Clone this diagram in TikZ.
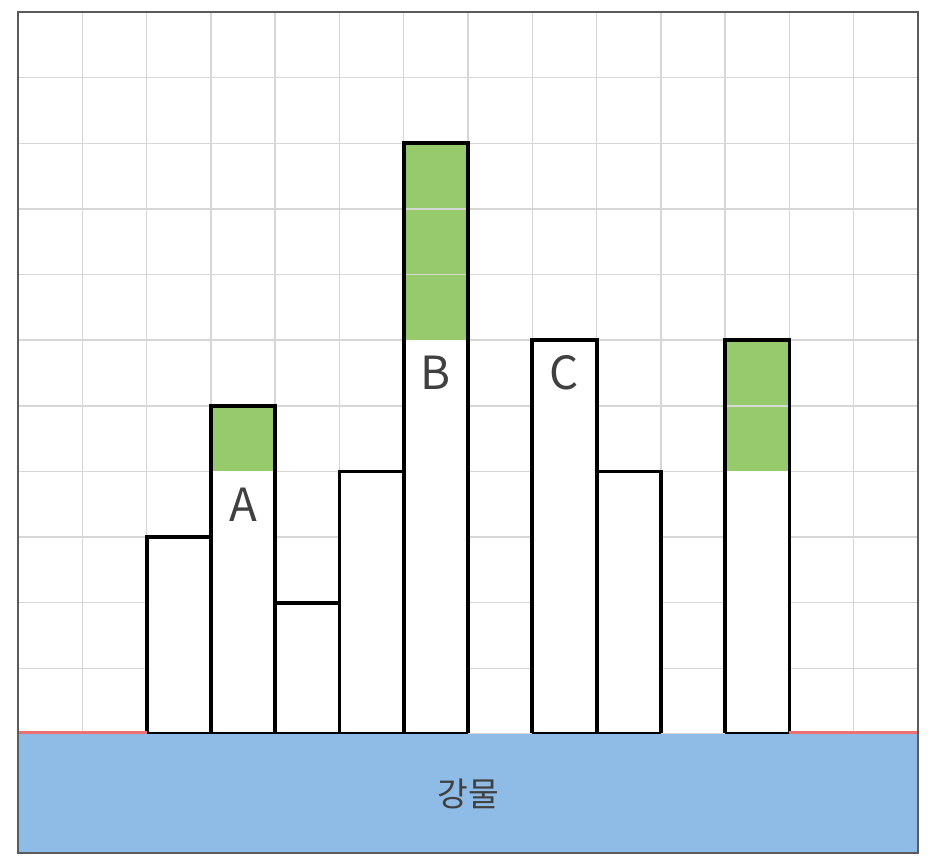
\documentclass[tikz,border=0pt]{standalone}
\usepackage{fontspec}
\setmainfont{Noto Sans CJK KR}
\definecolor{gridgray}{RGB}{215,215,215}
\definecolor{roofgreen}{RGB}{151,202,108}
\definecolor{riverblue}{RGB}{143,188,230}
\definecolor{shorered}{RGB}{238,112,112}
\definecolor{textgray}{RGB}{64,64,64}
\definecolor{framegray}{RGB}{90,90,90}

\begin{document}
\begin{tikzpicture}[
    x = 1.2857cm, y = 1.3127cm,
    gridline/.style = {gridgray, line width=0.8pt},
    building/.style = {draw=black, line width=2.2pt},
    roofcell/.style = {fill=roofgreen},
    shoreline/.style= {shorered, line width=2pt},
    tagtext/.style  = {font=\fontsize{26}{30}\selectfont, text=textgray},
    rivertext/.style= {font=\fontsize{19}{22}\selectfont, text=textgray},
]
\useasboundingbox (-0.28,-2.011) rectangle (14.342,11.183);

% Grid
\foreach \i in {1,...,13}{
  \draw[gridline] (\i,0) -- (\i,11);
}
\foreach \j in {1,...,10}{
  \draw[gridline] (0,\j) -- (14,\j);
}

% Buildings: column / white height / green height
\foreach \c/\h/\g in {2/3/0, 3/4/1, 4/2/0, 5/4/0, 6/6/3, 8/6/0, 9/4/0, 11/4/2}{
  \fill[white] (\c,0) rectangle (\c+1,\h);
  \ifnum\g>0
    \fill[roofcell] (\c,\h) rectangle (\c+1,\h+\g);
    \foreach \k in {1,...,\g}{
      \ifnum\k<\g
        \draw[gridline] (\c,\h+\k) -- (\c+1,\h+\k);
      \fi
    }
  \fi
  \draw[building] (\c,0) rectangle (\c+1,\h+\g);
}

% Labels
\node[tagtext] (tagA) at (3.5,3.5) {A};
\node[tagtext] (tagB) at (6.5,5.5) {B};
\node[tagtext] (tagC) at (8.5,5.5) {C};

% River
\fill[riverblue] (0,-1.813) rectangle (14,0);
\node[rivertext] (river) at (7,-0.906) {강물};
\draw[gridline] (7,0.01) -- (8,0.01);
\draw[gridline] (10,0.01) -- (11,0.01);
\draw[shoreline] (0,0.02) -- (2,0.02);
\draw[shoreline] (12,0.02) -- (14,0.02);

% Frame
\draw[framegray, line width=1pt] (0,-1.813) rectangle (14,11);
\end{tikzpicture}
\end{document}
